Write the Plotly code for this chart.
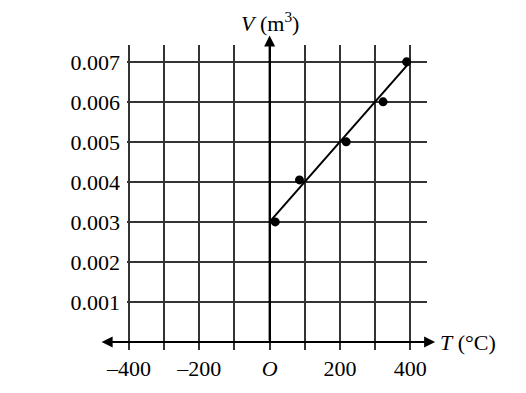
import plotly.graph_objects as go

# data
T_points = [16, 85, 218, 323, 390]
V_points = [0.003, 0.00405, 0.005, 0.006, 0.007]
fit_T = [0, 400]
fit_V = [0.003, 0.007]

x_tickvals = [-400, -300, -200, -100, 0, 100, 200, 300, 400]
x_ticktext = ["–400", "", "–200", "", "<i>O</i>", "", "200", "", "400"]
y_tickvals = [0.001, 0.002, 0.003, 0.004, 0.005, 0.006, 0.007]
y_ticktext = ["0.001", "0.002", "0.003", "0.004", "0.005", "0.006", "0.007"]

FONT = "Liberation Serif"
GRID = "#333333"

fig = go.Figure()
fig.add_trace(go.Scatter(x=fit_T, y=fit_V, mode="lines",
                         line=dict(color="black", width=2), showlegend=False))
fig.add_trace(go.Scatter(x=T_points, y=V_points, mode="markers",
                         marker=dict(color="black", size=9), showlegend=False))

fig.update_layout(
    width=518, height=385,
    margin=dict(l=119, r=99, t=37, b=45),
    plot_bgcolor="white", paper_bgcolor="white",
    font=dict(family=FONT, size=22, color="black"),
    showlegend=False,
)
fig.update_xaxes(
    range=[-406, 448], tickvals=x_tickvals, ticktext=x_ticktext,
    showgrid=True, gridcolor=GRID, gridwidth=1.5,
    zeroline=True, zerolinecolor="black", zerolinewidth=2,
    ticks="outside", ticklen=7, tickcolor=GRID, tickwidth=1.5,
    showline=False, tickfont=dict(family=FONT, size=22),
)
fig.update_yaxes(
    range=[0, 0.00742], tickvals=y_tickvals, ticktext=y_ticktext,
    showgrid=True, gridcolor=GRID, gridwidth=1.5,
    zeroline=False, showline=False, ticks="", ticklabelstandoff=6,
    tickfont=dict(family=FONT, size=22),
)

# horizontal axis arrow (both ends), tip at right end of the T axis
fig.add_annotation(x=1.027, y=0, xref="paper", yref="y",
                   ax=-335, ay=0, axref="pixel", ayref="pixel", text="",
                   showarrow=True, arrowhead=2, arrowside="end+start",
                   arrowsize=1.1, arrowwidth=2, arrowcolor="black")
# vertical axis arrow
fig.add_annotation(x=0, y=0.00766, ax=0, ay=0, xref="x", yref="y",
                   axref="x", ayref="y", text="", showarrow=True,
                   arrowhead=2, arrowsize=1.1, arrowwidth=2, arrowcolor="black")

# axis titles
fig.add_annotation(x=0, y=1.078, xref="x", yref="paper", text="<i>V</i> (m<sup>3</sup>)",
                   showarrow=False, xanchor="center", yanchor="middle",
                   font=dict(family=FONT, size=22))
fig.add_annotation(x=1.035, y=0, xref="paper", yref="y", text="<i>T</i> (°C)",
                   showarrow=False, xanchor="left", yanchor="middle",
                   font=dict(family=FONT, size=22))

fig.write_html("out.html")
